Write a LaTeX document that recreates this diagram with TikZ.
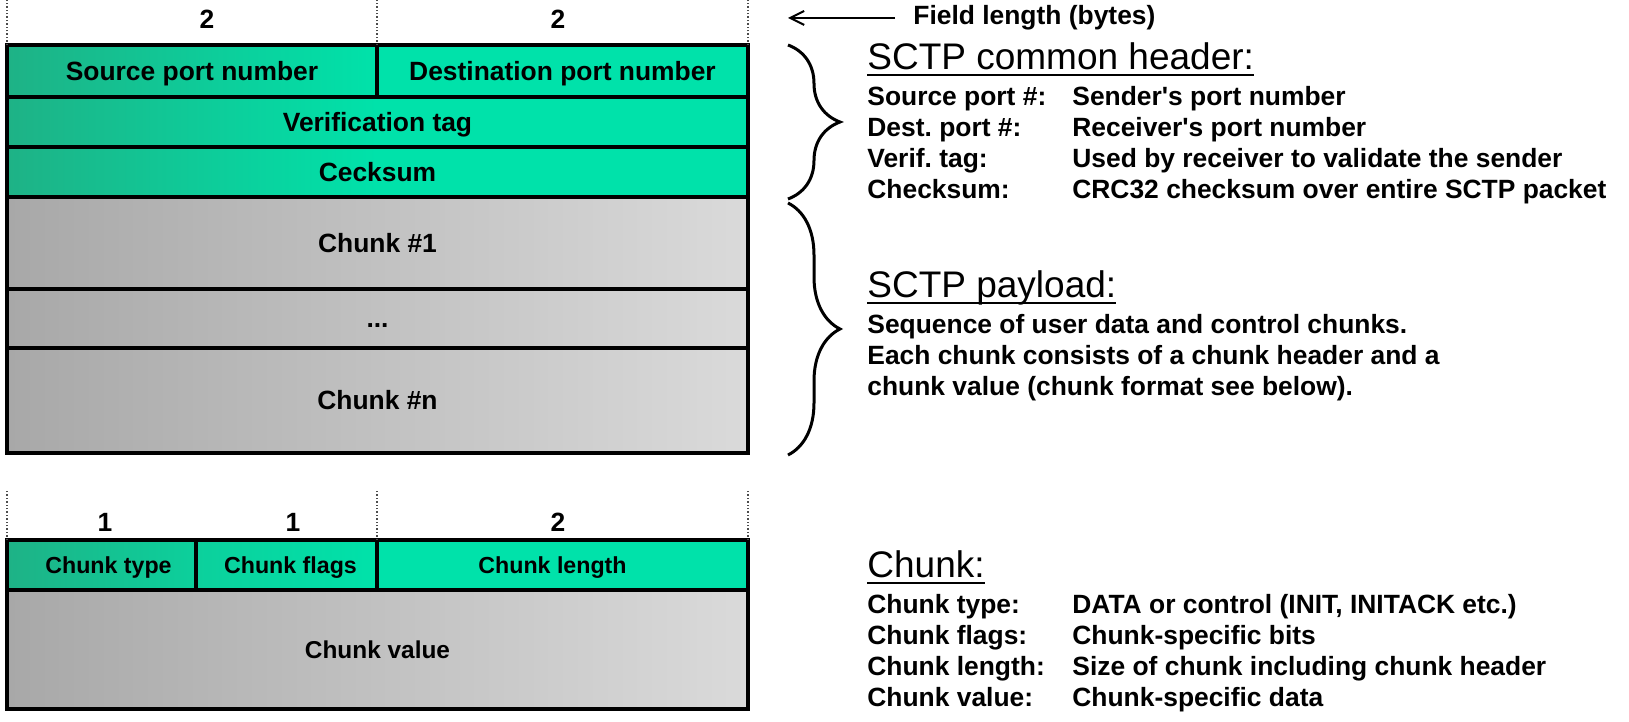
\documentclass[tikz,border=0pt]{standalone}
\usepackage{fontspec}
\setmainfont{Liberation Sans}
\usepackage{tikz}
\usetikzlibrary{positioning,calc}
\usetikzlibrary{decorations.pathreplacing}
\usetikzlibrary{arrows.meta}
\definecolor{greendark}{RGB}{30,178,134}
\definecolor{greenmid}{RGB}{12,208,156}
\definecolor{greenlight}{RGB}{0,226,170}
\definecolor{graydark}{RGB}{168,168,168}
\definecolor{graylight}{RGB}{218,218,218}
\newcommand{\boxfont}{\fontsize{13.2}{15.5}\selectfont\bfseries}
\newcommand{\smallboxfont}{\fontsize{11.6}{14}\selectfont\bfseries}
\newcommand{\headfont}{\fontsize{18.5}{22}\selectfont}
\newcommand{\ulhead}[1]{\setbox0\hbox{#1}\rlap{\rule[-3.2pt]{\wd0}{1.3pt}}\box0}
\tikzstyle{lenarrow} = [line width=1pt,-{Straight Barb[length=7pt,width=7pt]}]

\begin{document}
\begin{tikzpicture}[x=0.5pt, y=0.5pt,
    field/.style={rectangle, draw=black, line width=1.7pt, inner sep=0pt, outer sep=0pt, text height=9.5pt, text depth=0pt, text=black, font=\boxfont},
    hdrfield/.style={field, left color=greendark, right color=greenlight},
    fullhdr/.style={field, left color=greendark, right color=greenlight, middle color=greenlight},
    chunkfield/.style={field, left color=graydark, right color=graylight},
    bytelbl/.style={inner sep=0pt, font=\boxfont},
    guide/.style={densely dotted, line width=0.7pt, black!70},
    bracket/.style={decorate, decoration={brace, amplitude=26pt}, line width=1.5pt},
    heading/.style={inner sep=0pt, anchor=base west, font=\headfont},
    legend/.style={inner sep=0pt, font=\boxfont}]

    \useasboundingbox (0,0) rectangle (1629,722);
    \fill[white] (0,0) rectangle (1629,722);

    % PACKET
    \node[hdrfield, minimum width=185pt, minimum height=26pt, anchor=north west] (srcport) at (7,677) {Source port number};
    \node[field, fill=greenlight, minimum width=185.5pt, minimum height=26pt, right=0pt of srcport] (dstport) {Destination port number};
    \node[fullhdr, minimum width=370.5pt, minimum height=25pt, below=0pt of srcport.south west, anchor=north west] (vtag) {Verification tag};
    \node[fullhdr, minimum width=370.5pt, minimum height=25pt, below=0pt of vtag] (cksum) {Cecksum};
    \node[chunkfield, minimum width=370.5pt, minimum height=46pt, below=0pt of cksum] (chunkone) {Chunk \#1};
    \node[chunkfield, minimum width=370.5pt, minimum height=29.5pt, below=0pt of chunkone] (chunkdots) {...};
    \node[chunkfield, minimum width=370.5pt, minimum height=52.5pt, below=0pt of chunkdots] (chunkn) {Chunk \#n};

    \node[bytelbl] (lensrc) at (207,703) {2};
    \node[bytelbl] (lendst) at (558,703) {2};
    \draw[guide] (srcport.north west) -- +(0,45);
    \draw[guide] (srcport.north east) -- +(0,45);
    \draw[guide] (dstport.north east) -- +(0,45);

    % CHUNK
    \node[field, font=\smallboxfont, text height=8.3pt, left color=greendark, right color=greenmid, minimum width=94.5pt, minimum height=25pt, anchor=north west] (ctype) at (7,182) {\hspace*{7pt}Chunk type};
    \node[field, font=\smallboxfont, text height=8.3pt, left color=greenmid, right color=greenlight, minimum width=90.5pt, minimum height=25pt, right=0pt of ctype] (cflags) {\hspace*{4pt}Chunk flags};
    \node[field, font=\smallboxfont, text height=8.3pt, fill=greenlight, minimum width=185.5pt, minimum height=25pt, right=0pt of cflags] (clength) {Chunk length\hspace*{10pt}};
    \node[chunkfield, font=\fontsize{12.2}{14.5}\selectfont\bfseries, minimum width=370.5pt, minimum height=59.5pt, below=0pt of ctype.south west, anchor=north west] (cvalue) {Chunk value};

    \node[bytelbl] (lentype) at (105,200) {1};
    \node[bytelbl] (lenflags) at (293,200) {1};
    \node[bytelbl] (lenlength) at (558,200) {2};
    \draw[guide] (ctype.north west) -- +(0,50);
    \draw[guide] (cflags.north east) -- +(0,50);
    \draw[guide] (clength.north east) -- +(0,50);

    % LEGEND
    \node[legend, anchor=west] (fieldlen) at (913,704) {Field length (bytes)};
    \coordinate (lenend) at (788,704);
    \draw[lenarrow] ([xshift=-9pt]fieldlen.west) -- (lenend);

    \draw[bracket] ([xshift=20pt]dstport.north east) -- ([xshift=20pt,yshift=-1pt]cksum.south east);
    \draw[bracket] ([xshift=20pt,yshift=-3pt]chunkone.north east) -- ([xshift=20pt,yshift=-1pt]chunkn.south east);

    \node[heading] (hdrtitle) at (867,652) {\ulhead{SCTP common header:}};
    \node[legend, below=18pt of hdrtitle.base west, anchor=base west] (hdrtext) {%
        \begin{tabular}[t]{@{}p{102.5pt}@{}l@{}}
            Source port \#: & Sender\textquotesingle s port number\\
            Dest.\ port \#: & Receiver\textquotesingle s port number\\
            Verif.\ tag: & Used by receiver to validate the sender\\
            Checksum: & CRC32 checksum over entire SCTP packet
        \end{tabular}};

    \node[heading] (paytitle) at (867,424) {\ulhead{SCTP payload:}};
    \node[legend, below=18pt of paytitle.base west, anchor=base west] (paytext) {%
        \begin{tabular}[t]{@{}l@{}}
            Sequence of user data and control chunks.\\
            Each chunk consists of a chunk header and a\\
            chunk value (chunk format see below).
        \end{tabular}};

    \node[heading] (chunktitle) at (867,144) {\ulhead{Chunk:}};
    \node[legend, below=18pt of chunktitle.base west, anchor=base west] (chunktext) {%
        \begin{tabular}[t]{@{}p{102.5pt}@{}l@{}}
            Chunk type: & DATA or control (INIT, INITACK etc.)\\
            Chunk flags: & Chunk-specific bits\\
            Chunk length: & Size of chunk including chunk header\\
            Chunk value: & Chunk-specific data
        \end{tabular}};

\end{tikzpicture}
\end{document}
